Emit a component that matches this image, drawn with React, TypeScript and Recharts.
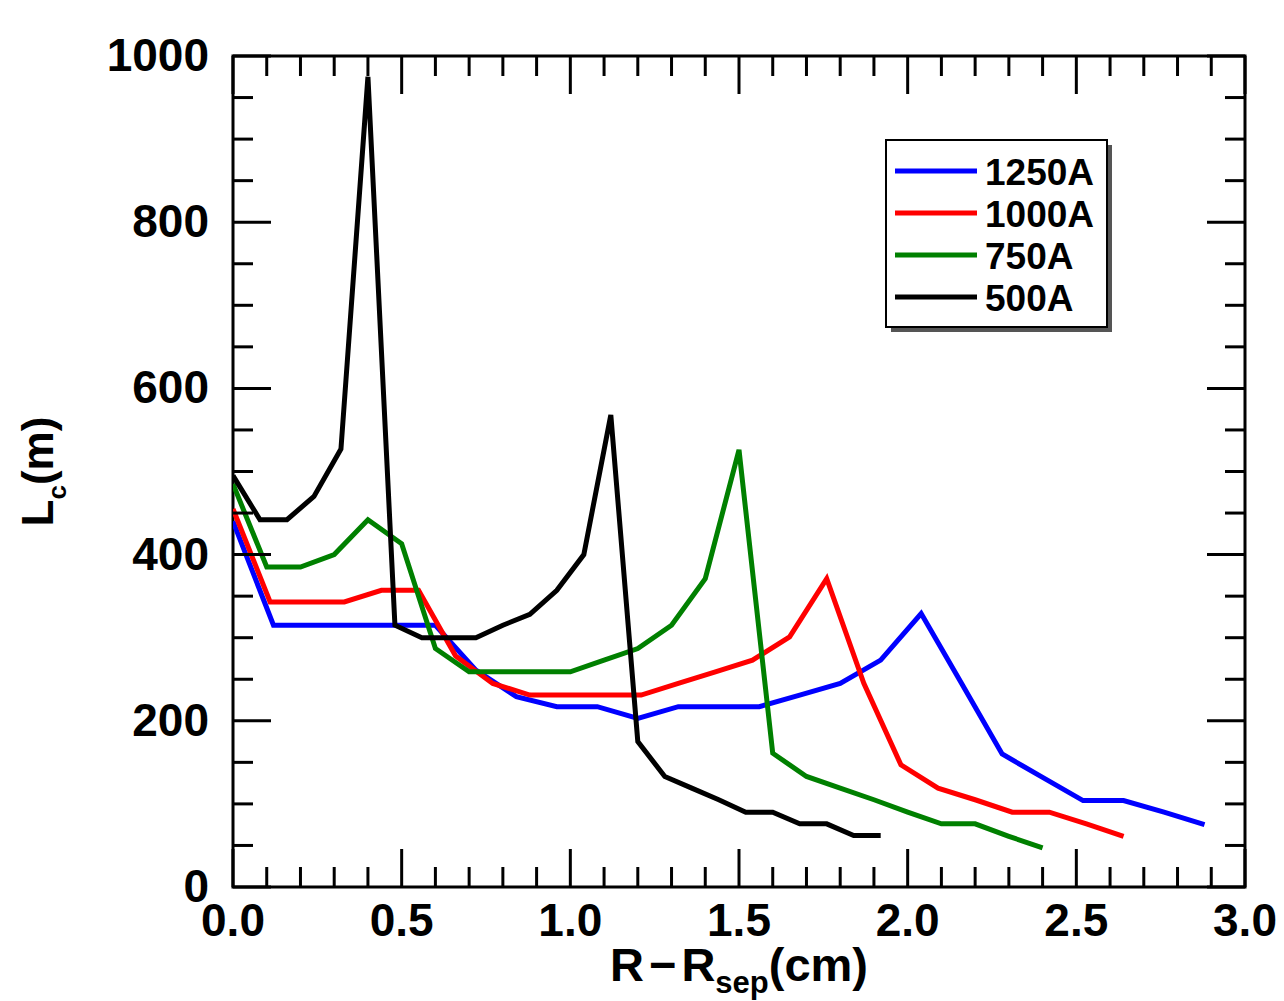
import { Legend, Line, LineChart, ReferenceArea, XAxis, YAxis } from "recharts";

// R - Rsep (cm) sample positions and connection length Lc (m) per coil current
const X_1250 = [0, 0.12, 0.24, 0.36, 0.48, 0.6, 0.72, 0.84, 0.96, 1.08, 1.2, 1.32, 1.44, 1.56, 1.68, 1.8, 1.92, 2.04, 2.16, 2.28, 2.4, 2.52, 2.64, 2.76, 2.88];
const LC_1250 = [440, 315, 315, 315, 315, 315, 261, 229, 217, 217, 203, 217, 217, 217, 231, 245, 273, 329, 245, 160, 132, 104, 104, 90, 75];

const X_1000 = [0, 0.11, 0.22, 0.33, 0.44, 0.55, 0.66, 0.77, 0.88, 0.99, 1.1, 1.21, 1.32, 1.43, 1.54, 1.65, 1.76, 1.87, 1.98, 2.09, 2.2, 2.31, 2.42, 2.53, 2.64];
const LC_1000 = [455, 343, 343, 343, 357, 357, 278, 245, 231, 231, 231, 231, 245, 259, 273, 301, 371, 245, 147, 119, 105, 90, 90, 76, 61];

const X_750 = [0, 0.1, 0.2, 0.3, 0.4, 0.5, 0.6, 0.7, 0.8, 0.9, 1.0, 1.1, 1.2, 1.3, 1.4, 1.5, 1.6, 1.7, 1.8, 1.9, 2.0, 2.1, 2.2, 2.3, 2.4];
const LC_750 = [485, 385, 385, 400, 442, 413, 287, 259, 259, 259, 259, 273, 287, 315, 371, 526, 161, 133, 119, 105, 90, 76, 76, 61, 47];

const X_500 = [0, 0.08, 0.16, 0.24, 0.32, 0.4, 0.48, 0.56, 0.64, 0.72, 0.8, 0.88, 0.96, 1.04, 1.12, 1.2, 1.28, 1.36, 1.44, 1.52, 1.6, 1.68, 1.76, 1.84, 1.92];
const LC_500 = [495, 442, 442, 470, 527, 975, 315, 300, 300, 300, 315, 328, 357, 400, 568, 175, 133, 119, 105, 90, 90, 76, 76, 62, 62];

const X_TICKS = [0, 0.1, 0.2, 0.3, 0.4, 0.5, 0.6, 0.7, 0.8, 0.9, 1.0, 1.1, 1.2, 1.3, 1.4, 1.5, 1.6, 1.7, 1.8, 1.9, 2.0, 2.1, 2.2, 2.3, 2.4, 2.5, 2.6, 2.7, 2.8, 2.9, 3.0];
const X_MAJOR = [0, 0.5, 1.0, 1.5, 2.0, 2.5, 3.0];
const X_LABELS = ["0.0", "0.5", "1.0", "1.5", "2.0", "2.5", "3.0"];
const Y_TICKS = [0, 50, 100, 150, 200, 250, 300, 350, 400, 450, 500, 550, 600, 650, 700, 750, 800, 850, 900, 950, 1000];
const Y_MAJOR = [0, 200, 400, 600, 800, 1000];
const Y_LABELS = ["0", "200", "400", "600", "800", "1000"];

const zip = (xs: number[], ys: number[]) => xs.map((x, i) => ({ x, y: ys[i] }));

const SERIES = [
  { name: "1250A", color: "#0000ff", data: zip(X_1250, LC_1250) },
  { name: "1000A", color: "#ff0000", data: zip(X_1000, LC_1000) },
  { name: "750A", color: "#008000", data: zip(X_750, LC_750) },
  { name: "500A", color: "#000000", data: zip(X_500, LC_500) },
];

const W = 1284;
const H = 1001;
const MARGIN = { top: 56, right: 39, left: 0, bottom: 0 };
const Y_AXIS_W = 233;
const X_AXIS_H = 114;
const PLOT_TOP = MARGIN.top;
const PLOT_RIGHT = W - MARGIN.right;
const PLOT_LEFT = MARGIN.left + Y_AXIS_W;
const PLOT_BOTTOM = H - X_AXIS_H;
const FONT = '"Liberation Sans", Arial, Helvetica, sans-serif';
const MAJOR_LEN = 38;
const MINOR_LEN = 20;

function XTick(props: any) {
  const { x, y, payload } = props;
  const idx = X_MAJOR.indexOf(payload.value);
  const len = idx >= 0 ? MAJOR_LEN : MINOR_LEN;
  return (
    <g>
      <line x1={x} x2={x} y1={y} y2={y - len} stroke="#000" strokeWidth={3} />
      <line x1={x} x2={x} y1={PLOT_TOP} y2={PLOT_TOP + len} stroke="#000" strokeWidth={3} />
      {idx >= 0 && (
        <text x={x} y={y + 49} textAnchor="middle" fontFamily={FONT} fontWeight="bold" fontSize={46} fill="#000">
          {X_LABELS[idx]}
        </text>
      )}
    </g>
  );
}

function YTick(props: any) {
  const { x, y, payload } = props;
  const idx = Y_MAJOR.indexOf(payload.value);
  const len = idx >= 0 ? MAJOR_LEN : MINOR_LEN;
  return (
    <g>
      <line x1={x} x2={x + len} y1={y} y2={y} stroke="#000" strokeWidth={3} />
      <line x1={PLOT_RIGHT - len} x2={PLOT_RIGHT} y1={y} y2={y} stroke="#000" strokeWidth={3} />
      {idx >= 0 && (
        <text x={x - 24} y={y + 15} textAnchor="end" fontFamily={FONT} fontWeight="bold" fontSize={46} fill="#000">
          {Y_LABELS[idx]}
        </text>
      )}
    </g>
  );
}

function XTitle() {
  return (
    <text x={(PLOT_LEFT + PLOT_RIGHT) / 2} y={H - 20} textAnchor="middle" fontFamily={FONT} fontWeight="bold" fontSize={47} fill="#000">
      <tspan>R</tspan>
      <tspan dx={5}>{"\u2212"}</tspan>
      <tspan dx={5}>R</tspan>
      <tspan dy={12} fontSize={31}>sep</tspan>
      <tspan dy={-12}>(cm)</tspan>
    </text>
  );
}

function YTitle() {
  const cx = 53;
  const cy = (PLOT_TOP + PLOT_BOTTOM) / 2;
  return (
    <text x={cx} y={cy} transform={`rotate(-90, ${cx}, ${cy})`} textAnchor="middle" fontFamily={FONT} fontWeight="bold" fontSize={44} fill="#000">
      <tspan>L</tspan>
      <tspan dy={13} fontSize={26}>c</tspan>
      <tspan dy={-13}>(m)</tspan>
    </text>
  );
}

function LegendBox() {
  return (
    <svg width={232} height={198}>
      <rect x={11} y={11} width={221} height={187} fill="#555" />
      <rect x={6} y={6} width={221} height={187} fill="#fff" stroke="#000" strokeWidth={2} />
      {SERIES.map((s, i) => (
        <g key={s.name}>
          <line x1={15} x2={97} y1={37 + i * 42} y2={37 + i * 42} stroke={s.color} strokeWidth={5} />
          <text x={105} y={51 + i * 42} fontFamily={FONT} fontWeight="bold" fontSize={37} fill="#000">
            {s.name}
          </text>
        </g>
      ))}
    </svg>
  );
}

export default function App() {
  return (
    <div style={{ position: "absolute", left: 0, top: 0, width: W, height: H, background: "#fff" }}>
      <LineChart width={W} height={H} margin={MARGIN}>
        <XAxis
          xAxisId="x"
          type="number"
          dataKey="x"
          domain={[0, 3]}
          allowDataOverflow
          ticks={X_TICKS}
          interval={0}
          height={X_AXIS_H}
          tickSize={0}
          tickMargin={0}
          axisLine={false}
          tickLine={false}
          tick={(p: any) => <XTick {...p} />}
          label={<XTitle />}
        />
        <YAxis
          yAxisId="y"
          type="number"
          domain={[0, 1000]}
          allowDataOverflow
          ticks={Y_TICKS}
          interval={0}
          width={Y_AXIS_W}
          tickSize={0}
          tickMargin={0}
          axisLine={false}
          tickLine={false}
          tick={(p: any) => <YTick {...p} />}
          label={<YTitle />}
        />
        {SERIES.map((s) => (
          <Line
            key={s.name}
            xAxisId="x"
            yAxisId="y"
            data={s.data}
            dataKey="y"
            name={s.name}
            stroke={s.color}
            strokeWidth={5}
            dot={false}
            activeDot={false}
            isAnimationActive={false}
          />
        ))}
        <ReferenceArea xAxisId="x" yAxisId="y" x1={0} x2={3} y1={0} y2={1000} fill="none" stroke="#000" strokeWidth={3} ifOverflow="visible" />
        <Legend
          layout="vertical"
          align="center"
          verticalAlign="middle"
          content={() => <LegendBox />}
          wrapperStyle={{ left: 880, top: 134, width: 232, height: 198 }}
        />
      </LineChart>
    </div>
  );
}
